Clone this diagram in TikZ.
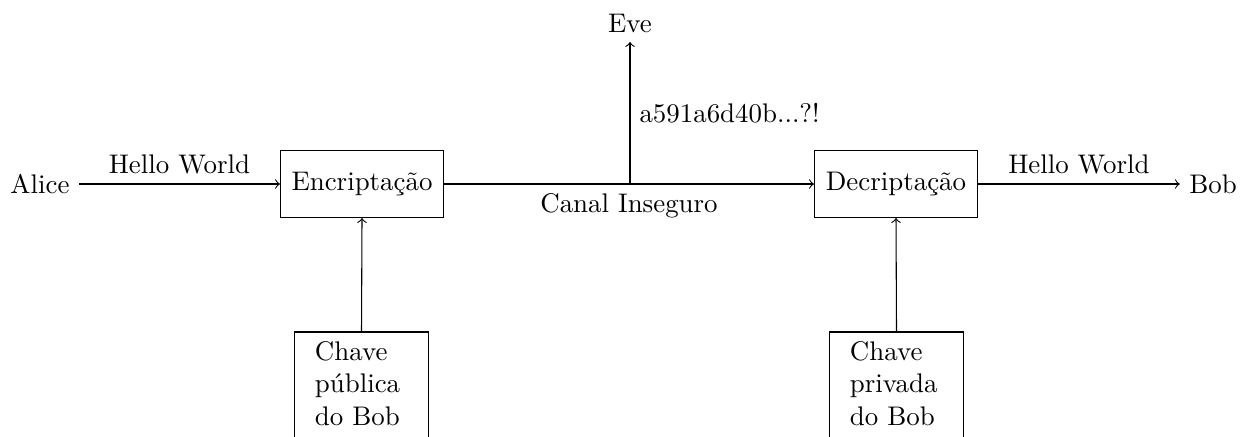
\documentclass[tikz,border=0pt]{standalone}
\begin{document}
\begin{tikzpicture}[x=0.3717pt,y=-0.3717pt,
  procbox/.style={draw,minimum width=60.6pt,minimum height=24.9pt,inner sep=3.33pt},
  keybox/.style={text width=34.6pt,align=left,inner xsep=7.4pt,inner ysep=3.33pt,anchor=north},
  conn/.style={->}]
\useasboundingbox (0,0) rectangle (1248,436);
\node (alice) at (40,184) {Alice};
\node[procbox] (enc) at (362,184) {Encriptação};
\node[procbox] (dec) at (896,184) {Decriptação};
\node (bob) at (1213,184) {Bob};
\node[anchor=south] (eve) at (630,42) {Eve};
\coordinate (tap) at (630,184);
\node[keybox] (kpub) at (361.5,332) {Chave\\pública\\do Bob};
\node[keybox] (kpriv) at (896.5,332) {Chave\\privada\\do Bob};
\draw (kpub.north west) rectangle ([yshift=-20pt]kpub.south east);
\draw (kpriv.north west) rectangle ([yshift=-20pt]kpriv.south east);
\draw[conn] (alice) -- node[above] {Hello World} (enc);
\draw[conn] (enc) -- node[below] {Canal Inseguro} (dec);
\draw[conn] (dec) -- node[above] {Hello World} (bob);
\draw[conn] (tap) -- node[right] {a591a6d40b...?!} (eve.south);
\draw[conn] (kpub.north) -- (enc.south);
\draw[conn] (kpriv.north) -- (dec.south);
\end{tikzpicture}
\end{document}
